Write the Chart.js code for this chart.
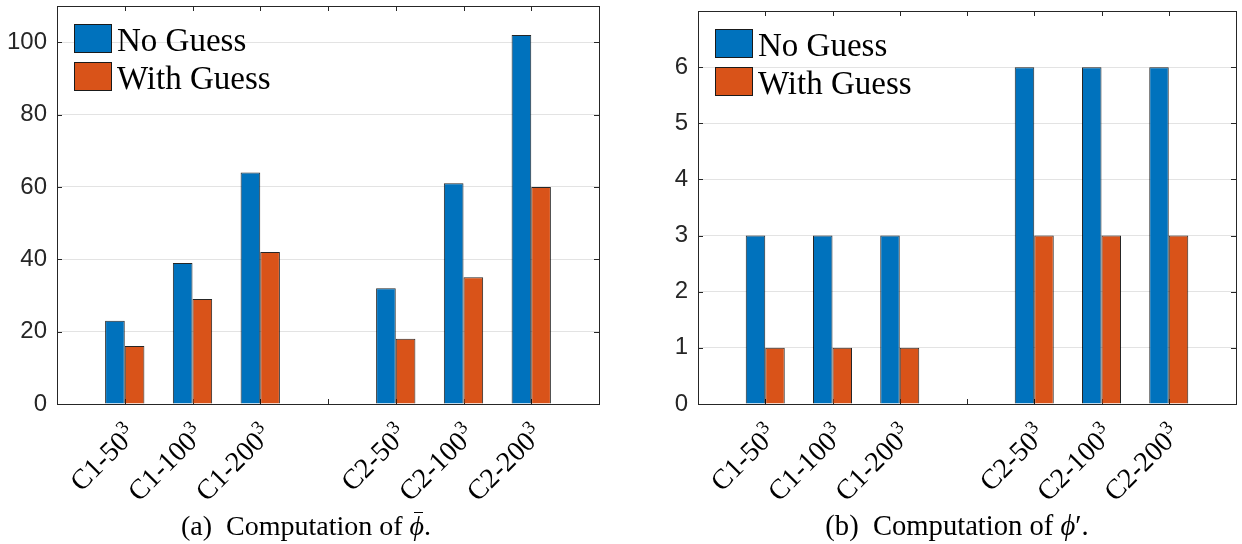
<!DOCTYPE html>
<html>
<head>
<meta charset="utf-8">
<script src="https://cdn.jsdelivr.net/npm/chart.js@4.4.1/dist/chart.umd.min.js"></script>
<style>
  html, body { margin: 0; padding: 0; background: #fff; }
  body { width: 1242px; height: 544px; position: relative; overflow: hidden; }
  canvas { position: absolute; top: 0; }
  #chartA { left: 0; }
  #chartB { left: 620px; }
  .caption {
    position: absolute; top: 510px; width: 400px; text-align: center; white-space: nowrap;
    font-family: "Liberation Serif", "DejaVu Serif", serif; font-size: 28px; color: #000;
  }
  #capA { left: 106px; }
  #capB { left: 757px; font-size: 28.6px; }
  .bar { position: relative; display: inline-block; }
  .bar::before {
    content: ""; position: absolute; left: 4px; right: 1px; top: 2px;
    border-top: 1.4px solid #000;
  }
</style>
</head>
<body>
<canvas id="chartA" width="620" height="544"></canvas>
<canvas id="chartB" width="622" height="544"></canvas>
<div class="caption" id="capA">(a)&nbsp; Computation of <i class="bar">ϕ</i>.</div>
<div class="caption" id="capB">(b)&nbsp; Computation of <i>ϕ</i>′.</div>
<script>
// Grouped bars: C1 and C2 runs, empty slots keep the gap and the side margins
const categories = ['', 'C1-50³', 'C1-100³', 'C1-200³', '', 'C2-50³', 'C2-100³', 'C2-200³', ''];

// (a) Computation of phi-bar
const noGuessA   = [null, 23, 39, 64, null, 32, 61, 102, null];
const withGuessA = [null, 16, 29, 42, null, 18, 35, 60, null];
const yTicksA = [0, 20, 40, 60, 80, 100];

// (b) Computation of phi'
const noGuessB   = [null, 3, 3, 3, null, 6, 6, 6, null];
const withGuessB = [null, 1, 1, 1, null, 3, 3, 3, null];
const yTicksB = [0, 1, 2, 3, 4, 5, 6];

const seriesNames = ['No Guess', 'With Guess'];
const colors = ['#0072BD', '#D95319'];

const SERIF = '"Liberation Serif", "DejaVu Serif", serif';

// --- Plugins ---
// MATLAB-like frame with inward ticks on all four sides
const frameAndTicks = {
  id: 'frameAndTicks',
  beforeDatasetsDraw(chart) {
    const { ctx, chartArea: a, scales: { x, y } } = chart;
    const len = 5;
    ctx.save();
    ctx.strokeStyle = '#262626';
    ctx.lineWidth = 1;
    ctx.beginPath();
    y.ticks.forEach((t, i) => {
      const py = Math.round(y.getPixelForTick(i)) + 0.5;
      ctx.moveTo(a.left, py); ctx.lineTo(a.left + len, py);
      ctx.moveTo(a.right, py); ctx.lineTo(a.right - len, py);
    });
    for (let i = 1; i < x.ticks.length - 1; i++) {
      const px = Math.round(x.getPixelForTick(i)) + 0.5;
      ctx.moveTo(px, a.top); ctx.lineTo(px, a.top + len);
      ctx.moveTo(px, a.bottom); ctx.lineTo(px, a.bottom - len);
    }
    ctx.stroke();
    ctx.restore();
  },
  afterDatasetsDraw(chart) {
    const { ctx, chartArea: a } = chart;
    ctx.save();
    ctx.strokeStyle = '#262626';
    ctx.lineWidth = 1;
    ctx.strokeRect(Math.round(a.left) + 0.5, Math.round(a.top) + 0.5,
      Math.round(a.right - a.left), Math.round(a.bottom - a.top));
    ctx.restore();
  }
};

// Rotated category labels with a real raised exponent (C1-50^3)
const slantLabels = {
  id: 'slantLabels',
  afterDraw(chart) {
    const { ctx, chartArea: a, scales: { x } } = chart;
    ctx.save();
    ctx.fillStyle = '#000';
    ctx.textAlign = 'right';
    ctx.textBaseline = 'alphabetic';
    chart.data.labels.forEach((lab, i) => {
      if (!lab) return;
      const base = lab.replace('³', '');
      const px = x.getPixelForTick(i);
      ctx.save();
      ctx.translate(px + 13, a.bottom + 32);
      ctx.rotate(-Math.PI / 4);
      ctx.font = '19px ' + SERIF;
      ctx.fillText('3', 0, -11);
      const w = ctx.measureText('3').width;
      ctx.font = '28px ' + SERIF;
      ctx.fillText(base, -w - 0.5, 0);
      ctx.restore();
    });
    ctx.restore();
  }
};

// Legend drawn inside the plot area, top-left, stacked
const boxLegend = {
  id: 'boxLegend',
  afterDraw(chart, args, opts) {
    const { ctx, chartArea: a } = chart;
    ctx.save();
    chart.data.datasets.forEach((ds, i) => {
      const bx = Math.round(a.left + opts.x);
      const by = Math.round(a.top + opts.y + i * opts.rowH);
      ctx.fillStyle = ds.backgroundColor;
      ctx.fillRect(bx, by, 38, 29);
      ctx.strokeStyle = '#1a1a1a';
      ctx.lineWidth = 1;
      ctx.strokeRect(bx + 0.5, by + 0.5, 37, 28);
      ctx.fillStyle = '#000';
      ctx.font = '33px ' + SERIF;
      ctx.textBaseline = 'alphabetic';
      ctx.textAlign = 'left';
      ctx.fillText(ds.label, bx + 43, by + 27);
    });
    ctx.restore();
  }
};

function makeChart(canvasId, noGuess, withGuess, yMax, yTicks, yWidth, top, right) {
  return new Chart(document.getElementById(canvasId).getContext('2d'), {
    type: 'bar',
    data: {
      labels: categories,
      datasets: [
        { label: seriesNames[0], data: noGuess, backgroundColor: colors[0] },
        { label: seriesNames[1], data: withGuess, backgroundColor: colors[1] }
      ].map(ds => Object.assign(ds, {
        borderColor: 'rgba(0,0,0,0.85)',
        borderWidth: 1,
        borderSkipped: 'start',
        barPercentage: 1,
        categoryPercentage: 0.58
      }))
    },
    options: {
      responsive: false,
      animation: false,
      devicePixelRatio: 1,
      layout: { padding: { left: 0, right: right, top: top, bottom: 0 } },
      scales: {
        x: {
          offset: false,
          grid: { display: false, drawTicks: false },
          border: { display: false },
          ticks: { display: false, autoSkip: false },
          afterFit(scale) {
            scale.height = 140;
            scale.paddingLeft = 0;
            scale.paddingRight = 0;
          }
        },
        y: {
          min: 0,
          max: yMax,
          grid: { color: '#e3e3e3', drawTicks: false },
          border: { display: false },
          ticks: {
            padding: 10,
            color: '#262626',
            font: { family: '"Liberation Sans", Arial, sans-serif', size: 24 }
          },
          afterBuildTicks(scale) { scale.ticks = yTicks.map(v => ({ value: v })); },
          afterFit(scale) {
            scale.width = yWidth;
            scale.paddingTop = 0;
            scale.paddingBottom = 0;
          }
        }
      },
      plugins: {
        legend: { display: false },
        tooltip: { enabled: false },
        boxLegend: { x: 17, y: 18, rowH: 38 }
      }
    },
    plugins: [frameAndTicks, slantLabels, boxLegend]
  });
}

makeChart('chartA', noGuessA, withGuessA, 110, yTicksA, 57, 6, 21);
makeChart('chartB', noGuessB, withGuessB, 7, yTicksB, 78, 11, 6);
</script>
</body>
</html>
